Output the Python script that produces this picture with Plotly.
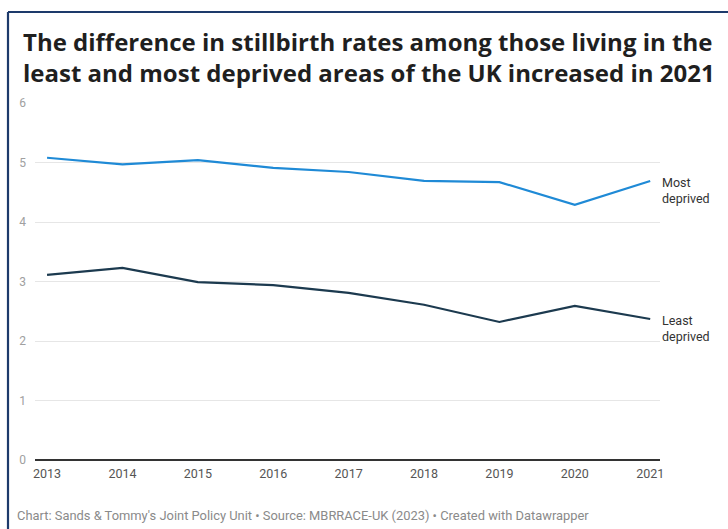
import plotly.graph_objects as go

# Stillbirth rates per 1,000 births, UK
years = [2013, 2014, 2015, 2016, 2017, 2018, 2019, 2020, 2021]
most_deprived = [5.08, 4.97, 5.04, 4.91, 4.84, 4.69, 4.67, 4.29, 4.69]
least_deprived = [3.11, 3.23, 2.99, 2.94, 2.81, 2.61, 2.32, 2.59, 2.37]
y_ticks = [0, 1, 2, 3, 4, 5, 6]

title_text = ("The difference in stillbirth rates among those living in the<br>"
              "least and most deprived areas of the UK increased in 2021")
footer_text = ("Chart: Sands &amp; Tommy's Joint Policy Unit • Source: MBRRACE-UK (2023) "
               "• Created with Datawrapper")

W, H = 728, 529
L, R, T, B = 35, 68, 103, 69
PW, PH = W - L - R, H - T - B


def px(x):
    return (x - L) / PW


def py(y):
    return (H - B - y) / PH


BLUE = "#1f8ad6"
DARK = "#1c3a4f"
FRAME = "#1d3a6b"

fig = go.Figure()
fig.add_trace(go.Scatter(x=years, y=most_deprived, mode="lines",
                         line=dict(color=BLUE, width=2.2), name="Most deprived",
                         hoverinfo="x+y"))
fig.add_trace(go.Scatter(x=years, y=least_deprived, mode="lines",
                         line=dict(color=DARK, width=2.2), name="Least deprived",
                         hoverinfo="x+y"))

# Direct labels at the line ends
for label, series in (("Most<br>deprived", most_deprived),
                      ("Least<br>deprived", least_deprived)):
    fig.add_annotation(x=years[-1], y=series[-1], text=label, xref="x", yref="y",
                       xanchor="left", yanchor="middle", align="left",
                       xshift=10, yshift=-10, showarrow=False,
                       font=dict(family="Roboto", size=12.5, color="#333333"))

# Frame around the graphic
fig.add_shape(type="line", xref="paper", yref="paper",
              x0=px(8), x1=px(W + 5), y0=py(12), y1=py(12),
              line=dict(color=FRAME, width=2.2))
fig.add_shape(type="line", xref="paper", yref="paper",
              x0=px(8), x1=px(8), y0=py(12), y1=py(H + 5),
              line=dict(color=FRAME, width=2.2))

fig.add_annotation(x=px(21), y=py(23), xref="paper", yref="paper",
                   xanchor="left", yanchor="top", align="left", showarrow=False,
                   text="<b>" + title_text + "</b>",
                   font=dict(family="Open Sans", size=24, color="#1f1f1f"))
fig.add_annotation(x=px(15), y=py(515), xref="paper", yref="paper",
                   xanchor="left", yanchor="middle", align="left", showarrow=False,
                   text=footer_text,
                   font=dict(family="Roboto", size=12.9, color="#8a8a8a"))

fig.update_layout(
    width=W, height=H,
    margin=dict(l=L, r=R, t=T, b=B),
    paper_bgcolor="white", plot_bgcolor="white",
    showlegend=False,
    xaxis=dict(range=[2012.84, 2021.13], tickvals=years,
               ticktext=[str(y) for y in years], showgrid=False,
               zeroline=False, showline=False, ticks="",
               tickfont=dict(family="Roboto", size=12.5, color="#555555"),
               ticklabelstandoff=4),
    yaxis=dict(range=[0, 6], tickvals=y_ticks,
               ticktext=[str(v) for v in y_ticks],
               showgrid=True, gridcolor="#e6e6e6", gridwidth=1,
               zeroline=True, zerolinecolor="#333333", zerolinewidth=1.5,
               showline=False, ticks="",
               tickfont=dict(family="Roboto", size=12, color="#a0a0a0"),
               ticklabelstandoff=8),
)

fig.write_html("out.html")
